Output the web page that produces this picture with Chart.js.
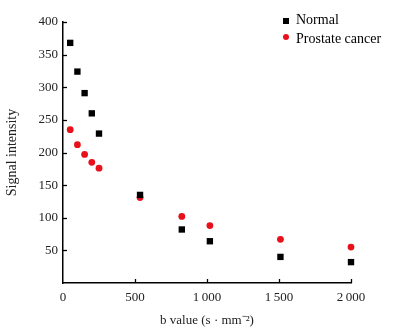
<!DOCTYPE html>
<html>
<head>
<meta charset="utf-8">
<script src="https://cdn.jsdelivr.net/npm/chart.js@4/dist/chart.umd.min.js"></script>
<style>
html,body{margin:0;padding:0;background:#fff;}
#wrap{position:relative;width:397px;height:329px;}
</style>
</head>
<body>
<div id="wrap"><canvas id="c" width="397" height="329"></canvas></div>
<script>
const bValues = [50, 100, 150, 200, 250, 535, 825, 1020, 1510, 2000];
const normalValues = [368, 324, 291, 260, 229, 135, 82, 64, 40, 32];
const cancelValues = [235, 212, 197, 185, 176, 131, 102, 88, 67, 55];
const seriesNames = ['Normal', 'Prostate cancer'];
const xTickValues = [0, 500, 1000, 1500, 2000];
const yTickValues = [50, 100, 150, 200, 250, 300, 350, 400];
const xTitle = 'b value (s \u00b7 mm\u207b\u00b2)';
const yTitle = 'Signal intensity';

const RED = '#e8111b';
const FONT = '"Liberation Serif", "Times New Roman", serif';

function fmt(v){
  return v >= 1000 ? String(v).replace(/(\d)(?=(\d{3})+$)/g, '$1\u2009') : String(v);
}

const innerTicks = {
  id: 'innerTicks',
  afterDraw(chart){
    const ctx = chart.ctx, xs = chart.scales.x, ys = chart.scales.y;
    const ca = chart.chartArea;
    ctx.save();
    ctx.strokeStyle = '#000';
    ctx.lineWidth = 1.3;
    xTickValues.forEach(v => {
      if (v === 0) return;
      const px = Math.round(xs.getPixelForValue(v)) + 0.5;
      ctx.beginPath(); ctx.moveTo(px, ca.bottom); ctx.lineTo(px, ca.bottom - 4); ctx.stroke();
    });
    yTickValues.forEach(v => {
      const py = Math.round(ys.getPixelForValue(v)) + 0.5;
      ctx.beginPath(); ctx.moveTo(ca.left, py); ctx.lineTo(ca.left + 4, py); ctx.stroke();
    });
    ctx.restore();
  }
};

const legendPlugin = {
  id: 'cornerLegend',
  afterDraw(chart){
    const ctx = chart.ctx;
    ctx.save();
    ctx.font = '14px ' + FONT;
    ctx.textBaseline = 'middle';
    ctx.fillStyle = '#000';
    ctx.fillRect(283, 18, 6, 6);
    ctx.fillText(seriesNames[0], 296, 20);
    ctx.fillStyle = RED;
    ctx.beginPath(); ctx.arc(286, 37, 3, 0, Math.PI * 2); ctx.fill();
    ctx.fillStyle = '#000';
    ctx.fillText(seriesNames[1], 296, 39);
    ctx.restore();
  }
};

new Chart(document.getElementById('c'), {
  type: 'scatter',
  data: {
    datasets: [
      {
        label: seriesNames[0],
        data: bValues.map((b, i) => ({x: b, y: normalValues[i]})),
        pointStyle: 'rect',
        pointRadius: 4.5,
        pointHoverRadius: 4.5,
        backgroundColor: '#000',
        borderColor: '#000',
        borderWidth: 0,
        clip: false
      },
      {
        label: seriesNames[1],
        data: bValues.map((b, i) => ({x: b, y: cancelValues[i]})),
        pointStyle: 'circle',
        pointRadius: 3.4,
        pointHoverRadius: 3.4,
        backgroundColor: RED,
        borderColor: RED,
        borderWidth: 0,
        clip: false
      }
    ]
  },
  options: {
    responsive: false,
    animation: false,
    events: [],
    layout: { padding: { left: 0, right: 46, top: 22, bottom: 0 } },
    plugins: { legend: { display: false }, tooltip: { enabled: false } },
    scales: {
      x: {
        type: 'linear',
        min: 0, max: 2000,
        afterFit(s){ s.height = 46; },
        afterBuildTicks(s){ s.ticks = xTickValues.map(v => ({value: v})); },
        grid: { display: true, drawOnChartArea: false, drawTicks: false },
        border: { display: true, color: '#000', width: 1.5 },
        ticks: {
          padding: 7,
          color: '#222',
          font: { family: FONT, size: 13 },
          maxRotation: 0,
          callback: v => fmt(v)
        },
        title: {
          display: true, text: xTitle, color: '#222',
          font: { family: FONT, size: 13 },
          padding: { top: 0, bottom: 1 }
        }
      },
      y: {
        type: 'linear',
        min: 0, max: 400,
        afterFit(s){ s.width = 63; },
        afterBuildTicks(s){ s.ticks = [0].concat(yTickValues).map(v => ({value: v})); },
        grid: { display: true, drawOnChartArea: false, drawTicks: false },
        border: { display: true, color: '#000', width: 1.5 },
        ticks: {
          padding: 5,
          color: '#222',
          font: { family: FONT, size: 13 },
          callback: v => v === 0 ? '' : String(v)
        },
        title: {
          display: true, text: yTitle, color: '#222',
          font: { family: FONT, size: 14 },
          padding: { top: 4, bottom: 0 }
        }
      }
    }
  },
  plugins: [innerTicks, legendPlugin]
});
</script>
</body>
</html>
